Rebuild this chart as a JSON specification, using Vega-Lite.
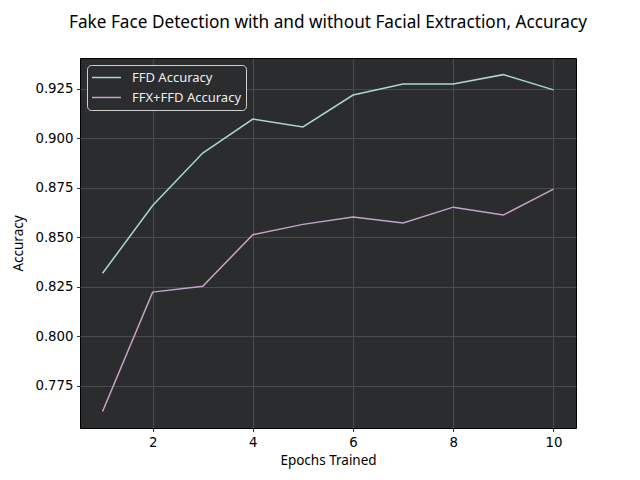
{
  "$schema": "https://vega.github.io/schema/vega-lite/v6.json",
  "width": 496,
  "height": 370,
  "autosize": {"type": "none"},
  "padding": {"left": 80, "top": 58, "right": 64, "bottom": 53},
  "background": "white",
  "title": {
    "text": "Fake Face Detection with and without Facial Extraction, Accuracy",
    "font": "Noto Sans",
    "fontSize": 17.2,
    "fontWeight": "normal",
    "color": "black",
    "anchor": "middle",
    "baseline": "alphabetic",
    "offset": 12.5
  },
  "data": {
    "values": [
      {"epoch": 1, "acc": 0.8318, "series": "FFD Accuracy"},
      {"epoch": 2, "acc": 0.8660, "series": "FFD Accuracy"},
      {"epoch": 3, "acc": 0.8925, "series": "FFD Accuracy"},
      {"epoch": 4, "acc": 0.9097, "series": "FFD Accuracy"},
      {"epoch": 5, "acc": 0.9057, "series": "FFD Accuracy"},
      {"epoch": 6, "acc": 0.9218, "series": "FFD Accuracy"},
      {"epoch": 7, "acc": 0.9274, "series": "FFD Accuracy"},
      {"epoch": 8, "acc": 0.9274, "series": "FFD Accuracy"},
      {"epoch": 9, "acc": 0.9321, "series": "FFD Accuracy"},
      {"epoch": 10, "acc": 0.9244, "series": "FFD Accuracy"},
      {"epoch": 1, "acc": 0.7620, "series": "FFX+FFD Accuracy"},
      {"epoch": 2, "acc": 0.8223, "series": "FFX+FFD Accuracy"},
      {"epoch": 3, "acc": 0.8253, "series": "FFX+FFD Accuracy"},
      {"epoch": 4, "acc": 0.8513, "series": "FFX+FFD Accuracy"},
      {"epoch": 5, "acc": 0.8565, "series": "FFX+FFD Accuracy"},
      {"epoch": 6, "acc": 0.8602, "series": "FFX+FFD Accuracy"},
      {"epoch": 7, "acc": 0.8572, "series": "FFX+FFD Accuracy"},
      {"epoch": 8, "acc": 0.8652, "series": "FFX+FFD Accuracy"},
      {"epoch": 9, "acc": 0.8612, "series": "FFX+FFD Accuracy"},
      {"epoch": 10, "acc": 0.8743, "series": "FFX+FFD Accuracy"}
    ]
  },
  "mark": {"type": "line", "strokeWidth": 1.5, "clip": true},
  "encoding": {
    "x": {
      "field": "epoch",
      "type": "quantitative",
      "scale": {"domain": [0.55, 10.45], "nice": false, "zero": false},
      "axis": {
        "values": [2, 4, 6, 8, 10],
        "title": "Epochs Trained",
        "titlePadding": 5
      }
    },
    "y": {
      "field": "acc",
      "type": "quantitative",
      "scale": {"domain": [0.7537, 0.9405], "nice": false, "zero": false},
      "axis": {
        "values": [0.775, 0.8, 0.825, 0.85, 0.875, 0.9, 0.925],
        "format": ".3f",
        "title": "Accuracy",
        "titlePadding": 9
      }
    },
    "color": {
      "field": "series",
      "type": "nominal",
      "scale": {
        "domain": ["FFD Accuracy", "FFX+FFD Accuracy"],
        "range": ["#a9d8cf", "#c9a2c9"]
      },
      "legend": {
        "orient": "none",
        "legendX": 7,
        "legendY": 7,
        "title": null,
        "fillColor": "#2b2c2e",
        "strokeColor": "#d0d0d0",
        "cornerRadius": 4,
        "padding": 4,
        "symbolType": "stroke",
        "symbolSize": 841,
        "symbolStrokeWidth": 1.5,
        "clipHeight": 17,
        "rowPadding": 3,
        "labelOffset": 10,
        "labelFont": "Noto Sans",
        "labelFontSize": 13,
        "labelColor": "#eeeeee",
        "labelLimit": 300
      }
    }
  },
  "config": {
    "view": {"fill": "#2b2c2e", "stroke": "black", "strokeWidth": 1},
    "axis": {
      "domain": false,
      "grid": true,
      "gridColor": "#4a4b4d",
      "gridWidth": 1,
      "tickColor": "black",
      "tickSize": 3.5,
      "tickWidth": 0.8,
      "labelFont": "DejaVu Sans",
      "labelFontSize": 13.3,
      "labelColor": "black",
      "labelPadding": 3.5,
      "titleFont": "Noto Sans",
      "titleFontSize": 13.5,
      "titleFontWeight": "normal",
      "titleColor": "black"
    }
  }
}
